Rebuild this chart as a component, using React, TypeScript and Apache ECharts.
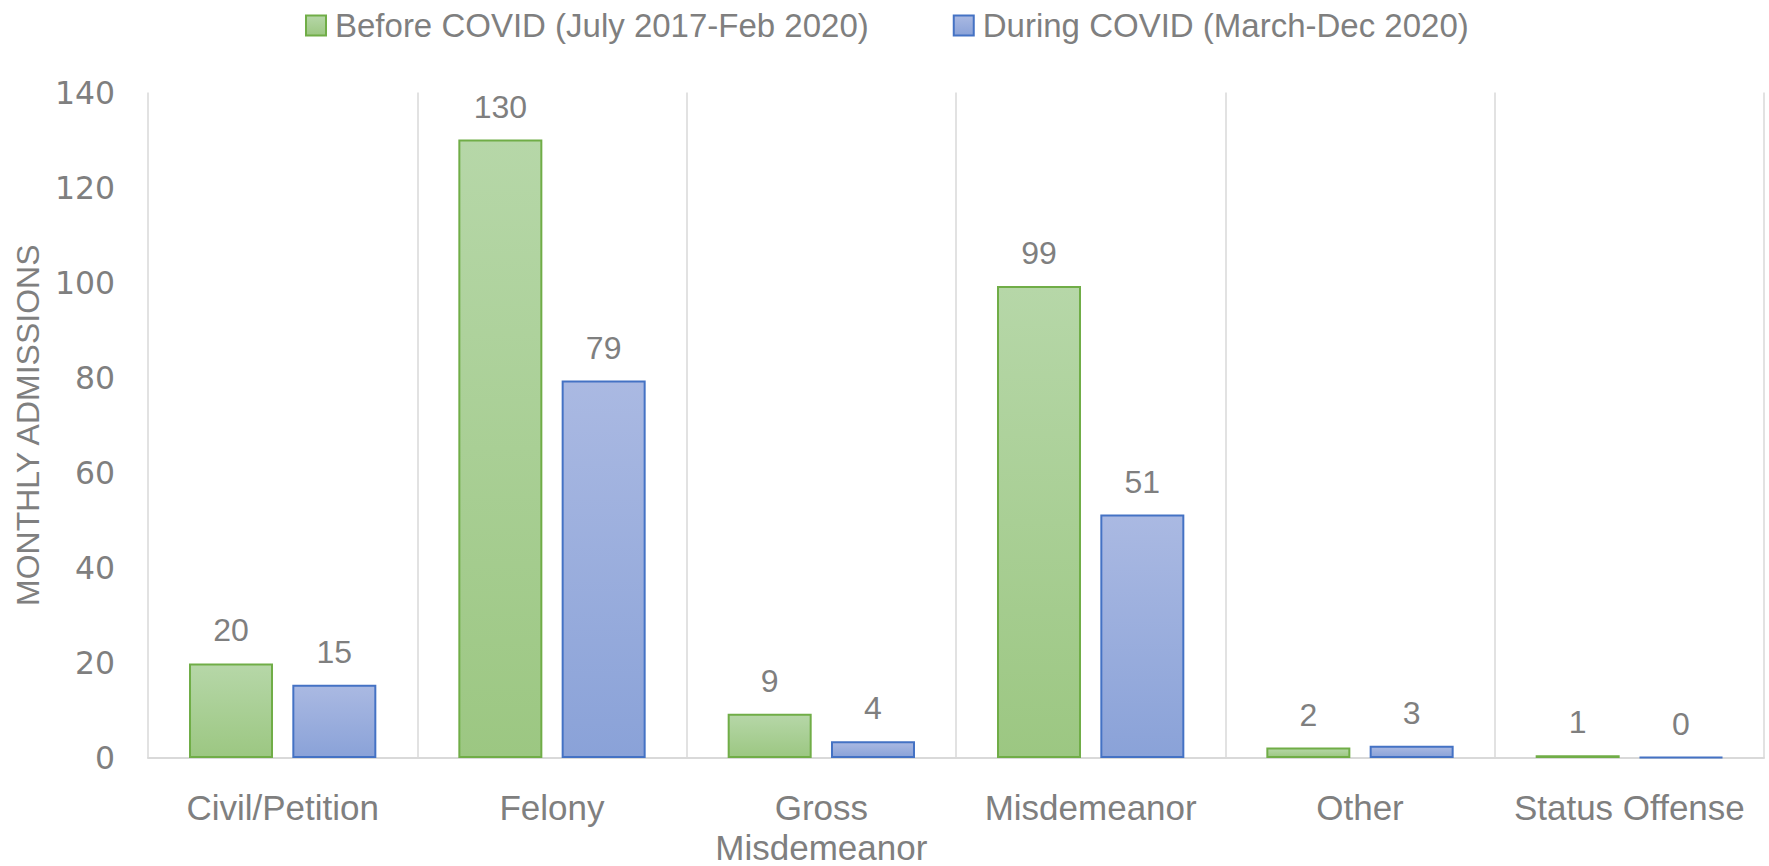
import React, { useEffect, useRef } from "react";
import * as echarts from "echarts";

const categories = ["Civil/Petition", "Felony", "Gross\nMisdemeanor", "Misdemeanor", "Other", "Status Offense"];
const beforeCovid = [19.9, 130.1, 9.3, 99.3, 2.2, 0.6];
const duringCovid = [15.4, 79.4, 3.5, 51.2, 2.6, 0.2];
const seriesNames = ["Before COVID (July 2017-Feb 2020)", "During COVID (March-Dec 2020)"];
const yTicks = { min: 0, max: 140, interval: 20 };
const yAxisName = "MONTHLY ADMISSIONS";

const TEXT = "#7f7f7f";
const FONT = "'Liberation Sans', Arial, sans-serif";

function grad(top: string, bottom: string) {
  return new echarts.graphic.LinearGradient(0, 0, 0, 1, [
    { offset: 0, color: top },
    { offset: 1, color: bottom },
  ]);
}

export default function App() {
  const ref = useRef<HTMLDivElement>(null);
  useEffect(() => {
    if (!ref.current) return;
    const chart = echarts.init(ref.current, undefined, { renderer: "svg" });
    const label = {
      show: true,
      position: "top",
      distance: 17,
      color: TEXT,
      fontSize: 32,
      fontFamily: FONT,
      formatter: (p: any) => String(Math.round(p.value)),
    };
    chart.setOption({
      animation: false,
      backgroundColor: "#ffffff",
      legend: {
        show: true,
        top: 4,
        left: 300,
        icon: "rect",
        itemWidth: 20,
        itemHeight: 20,
        itemGap: 84,
        textStyle: { color: TEXT, fontSize: 33, fontFamily: FONT, padding: [0, 0, 0, 4] },
        data: seriesNames,
      },
      grid: {
        left: 148,
        right: 5,
        top: 92.5,
        bottom: 108,
        containLabel: false,
        outerBoundsMode: "none",
      },
      xAxis: {
        type: "category",
        data: categories,
        axisLine: { show: true, lineStyle: { color: "#d9d9d9", width: 2 } },
        axisTick: { show: false },
        splitLine: { show: true, lineStyle: { color: "#d9d9d9", width: 1.5 } },
        axisLabel: {
          color: TEXT,
          fontSize: 35,
          fontFamily: FONT,
          lineHeight: 40,
          margin: 29,
          interval: 0,
        },
      },
      yAxis: {
        type: "value",
        min: yTicks.min,
        max: yTicks.max,
        interval: yTicks.interval,
        name: yAxisName,
        nameLocation: "middle",
        nameGap: 103,
        nameTextStyle: { color: TEXT, fontSize: 32, fontFamily: FONT },
        axisLine: { show: false },
        axisTick: { show: false },
        splitLine: { show: false },
        axisLabel: { color: TEXT, fontSize: 31.5, fontFamily: "'DejaVu Sans', sans-serif", margin: 33 },
      },
      series: [
        {
          name: seriesNames[0],
          type: "bar",
          data: beforeCovid,
          barWidth: 84,
          barGap: "23%",
          itemStyle: { color: grad("#b6d7a8", "#9cc782"), borderColor: "#70ad47", borderWidth: 2 },
          label,
        },
        {
          name: seriesNames[1],
          type: "bar",
          data: duringCovid,
          barWidth: 84,
          barGap: "23%",
          itemStyle: { color: grad("#aab9e2", "#8aa2d8"), borderColor: "#4472c4", borderWidth: 2 },
          label,
        },
      ],
    });
    return () => chart.dispose();
  }, []);
  return (
    <div
      ref={ref}
      style={{ position: "fixed", left: 0, top: 0, width: 1769, height: 866, background: "#fff" }}
    />
  );
}
